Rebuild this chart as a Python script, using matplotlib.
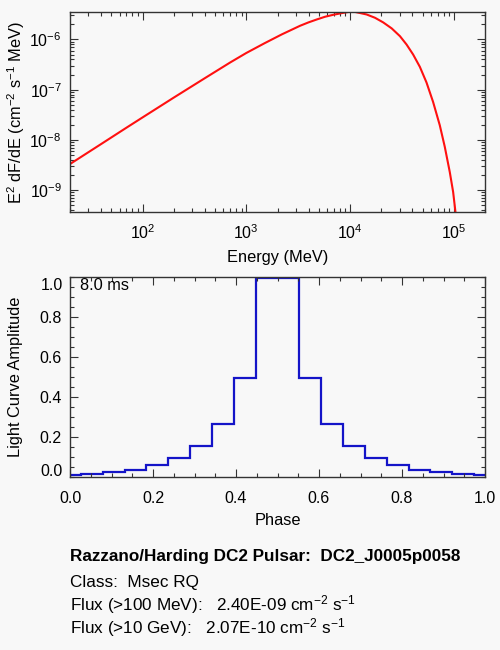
import matplotlib
matplotlib.use("Agg")
import matplotlib.pyplot as plt
from matplotlib.ticker import LogLocator, MultipleLocator, NullFormatter, FixedLocator

plt.rcParams['font.family'] = ['Liberation Sans', 'DejaVu Sans']
plt.rcParams['mathtext.fontset'] = 'custom'
plt.rcParams['mathtext.rm'] = 'Liberation Sans'
plt.rcParams['mathtext.it'] = 'Liberation Sans:italic'
plt.rcParams['mathtext.bf'] = 'Liberation Sans:bold'

# Spectrum (MeV, E^2 dF/dE)
energy = [20, 40, 70, 100, 200, 400, 700, 1000, 1500, 2200, 3300, 3970,
          4790, 5750, 6920, 8320, 10500, 14450, 17400, 20900, 25200, 30300,
          35100, 40600, 47100, 54600, 63200, 73300, 81900, 91500, 98600,
          103800]
sed = [3.31e-9, 8.3e-9, 1.75e-8, 2.8e-8, 6.95e-8, 1.7e-7, 3.48e-7, 5.37e-7,
       8.4e-7, 1.26e-6, 1.87e-6, 2.18e-6, 2.5e-6, 2.83e-6, 3.1e-6, 3.34e-6,
       3.63e-6, 3.14e-6, 2.7e-6, 2.18e-6, 1.66e-6, 1.16e-6, 7.9e-7, 5.0e-7,
       2.85e-7, 1.39e-7, 5.7e-8, 1.96e-8, 7.3e-9, 2.3e-9, 9.2e-10, 3.68e-10]

# Light curve
phase_edges = [0.0, 0.026, 0.079, 0.132, 0.184, 0.237, 0.289, 0.342, 0.395,
               0.447, 0.5, 0.553, 0.605, 0.658, 0.711, 0.763, 0.816, 0.868,
               0.921, 0.974, 1.0]
amplitude = [0.011, 0.016, 0.024, 0.036, 0.059, 0.094, 0.157, 0.266, 0.497,
             0.993, 0.993, 0.497, 0.266, 0.157, 0.094, 0.059, 0.036, 0.024,
             0.016, 0.011]
period_label = "8.0 ms"

pulsar_name = "DC2_J0005p0058"
pulsar_class = "Msec RQ"
flux_100mev = "2.40E-09"
flux_10gev = "2.07E-10"

bg = '#f8f8f8'
axc = '#333333'
fs = 11.8
tfs = 11.5

fig = plt.figure(figsize=(5, 6.5), dpi=100, facecolor=bg)


def style(ax):
    ax.set_facecolor(bg)
    for s in ax.spines.values():
        s.set_color(axc)
        s.set_linewidth(1.0)
    ax.tick_params(which='both', direction='in', top=True, right=True,
                   colors=axc, labelcolor='black', labelsize=tfs)
    ax.tick_params(which='major', length=6, width=0.8)
    ax.tick_params(which='minor', length=3, width=0.8)


# Top: spectrum
ax1 = fig.add_axes([0.14, 0.674, 0.83, 0.307])
style(ax1)
ax1.plot(energy, sed, color='#ff1010', lw=1.5)
ax1.set_xscale('log')
ax1.set_yscale('log')
ax1.set_xlim(20, 2e5)
ax1.set_ylim(3.69e-10, 3.46e-6)
ax1.xaxis.set_minor_locator(LogLocator(base=10, subs=range(2, 10), numticks=20))
ax1.yaxis.set_minor_locator(LogLocator(base=10, subs=range(2, 10), numticks=20))
ax1.xaxis.set_minor_formatter(NullFormatter())
ax1.yaxis.set_minor_formatter(NullFormatter())
ax1.tick_params(axis='x', pad=8)
ax1.tick_params(axis='y', pad=6)
ax1.set_xlabel("Energy (MeV)", fontsize=fs, labelpad=6)
ax1.set_ylabel(r"E$^2$ dF/dE (cm$^{-2}$ s$^{-1}$ MeV)", fontsize=fs, labelpad=2)

# Bottom: light curve
ax2 = fig.add_axes([0.14, 0.266, 0.83, 0.308])
style(ax2)
ax2.stairs(amplitude, phase_edges, baseline=None, color='#1414c8', lw=1.6)
ax2.set_xlim(0, 1)
ax2.set_ylim(0, 1)
ax2.xaxis.set_major_locator(MultipleLocator(0.2))
ax2.xaxis.set_minor_locator(MultipleLocator(0.05))
# end labels 0.0 / 1.0 sit inside the axis range, drawn separately
ax2.yaxis.set_major_locator(FixedLocator([0.2, 0.4, 0.6, 0.8]))
ax2.yaxis.set_minor_locator(MultipleLocator(0.05))
ax2.xaxis.set_major_formatter(lambda v, p: f"{v:.1f}")
ax2.yaxis.set_major_formatter(lambda v, p: f"{v:.1f}")
ax2.tick_params(axis='x', pad=10)
ax2.tick_params(axis='y', pad=6)
for yv, yt in [(0.03, "0.0"), (0.955, "1.0")]:
    ax2.text(-0.0175, yv, yt, transform=ax2.transAxes, fontsize=tfs,
             ha='right', va='center')
ax2.set_xlabel("Phase", fontsize=fs, labelpad=5)
ax2.set_ylabel("Light Curve Amplitude", fontsize=fs, labelpad=12)
ax2.text(0.025, 0.955, period_label, transform=ax2.transAxes,
         fontsize=fs, va='center', ha='left')

# Info text
ifs = 12.3
fig.text(70 / 500, 1 - 557 / 650, f"Razzano/Harding DC2 Pulsar:  {pulsar_name}",
         fontsize=ifs, fontweight='bold', va='center', ha='left')
fig.text(70 / 500, 1 - 582 / 650, f"Class:  {pulsar_class}",
         fontsize=ifs, va='center', ha='left')
fig.text(70 / 500, 1 - 605 / 650,
         f"Flux (>100 MeV):   {flux_100mev} cm$^{{-2}}$ s$^{{-1}}$",
         fontsize=ifs, va='center', ha='left')
fig.text(70 / 500, 1 - 628 / 650,
         f"Flux (>10 GeV):   {flux_10gev} cm$^{{-2}}$ s$^{{-1}}$",
         fontsize=ifs, va='center', ha='left')

fig.savefig("out.png", dpi=100, facecolor=bg)
